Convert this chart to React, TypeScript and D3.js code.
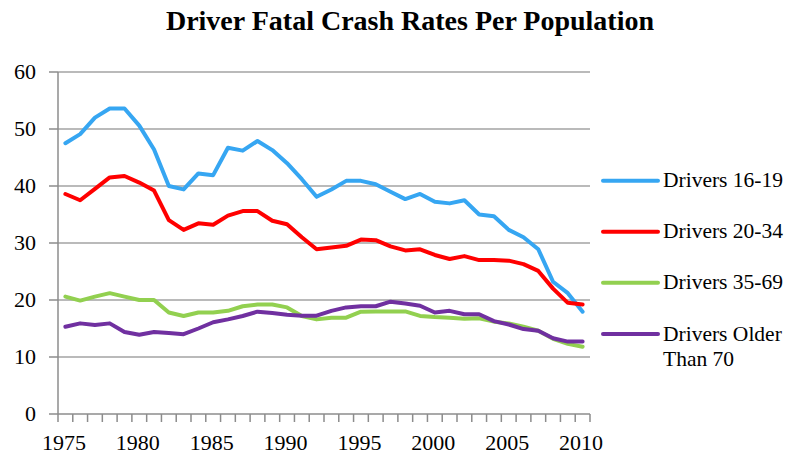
import React from "react";
import * as d3 from "d3";

const years: number[] = Array.from({ length: 36 }, (_, i) => 1975 + i);

const drivers16_19: number[] = [
  47.5, 49.1, 52.0, 53.6, 53.6, 50.6, 46.4, 40.0, 39.4, 42.2,
  41.9, 46.7, 46.2, 47.9, 46.3, 44.0, 41.2, 38.1, 39.4, 40.9,
  40.9, 40.3, 39.0, 37.7, 38.6, 37.25, 36.95, 37.5, 35.0, 34.7,
  32.3, 31.0, 28.9, 23.2, 21.2, 17.95,
];

const drivers20_34: number[] = [
  38.6, 37.5, 39.5, 41.5, 41.75, 40.6, 39.2, 34.0, 32.3, 33.45,
  33.2, 34.8, 35.6, 35.6, 33.9, 33.3, 31.0, 28.9, 29.2, 29.5,
  30.6, 30.5, 29.4, 28.7, 28.9, 27.9, 27.2, 27.7, 27.0, 27.0,
  26.9, 26.3, 25.1, 22.0, 19.5, 19.2,
];

const drivers35_69: number[] = [
  20.6, 19.9, 20.6, 21.2, 20.6, 20.0, 20.0, 17.8, 17.2, 17.8,
  17.8, 18.1, 18.9, 19.2, 19.2, 18.7, 17.2, 16.6, 16.9, 16.9,
  17.95, 18.0, 18.0, 18.0, 17.2, 17.0, 16.9, 16.7, 16.8, 16.2,
  15.9, 15.3, 14.6, 13.2, 12.3, 11.8,
];

const driversOver70: number[] = [
  15.3, 15.9, 15.6, 15.9, 14.4, 13.9, 14.4, 14.2, 14.0, 15.0,
  16.1, 16.6, 17.2, 17.95, 17.7, 17.4, 17.25, 17.25, 18.1, 18.7,
  18.9, 18.9, 19.7, 19.4, 19.0, 17.8, 18.1, 17.5, 17.5, 16.3,
  15.7, 14.9, 14.6, 13.3, 12.7, 12.7,
];

const yTicks: number[] = [0, 10, 20, 30, 40, 50, 60];
const xLabelYears: number[] = [1975, 1980, 1985, 1990, 1995, 2000, 2005, 2010];

const seriesNames: string[][] = [
  ["Drivers 16-19"],
  ["Drivers 20-34"],
  ["Drivers 35-69"],
  ["Drivers Older", "Than 70"],
];
const seriesValues: number[][] = [drivers16_19, drivers20_34, drivers35_69, driversOver70];
const seriesColors: string[] = ["#36A6F2", "#FF0000", "#92D050", "#7030A0"];

const title = "Driver Fatal Crash Rates Per Population";

export default function App() {
  const W = 789;
  const H = 456;
  const left = 58;
  const right = 590;
  const top = 72;
  const bottom = 414;

  const x = d3.scaleBand<number>().domain(years).range([left, right]).padding(0);
  const y = d3.scaleLinear().domain([0, 60]).range([bottom, top]);
  const cx = (yr: number) => (x(yr) as number) + x.bandwidth() / 2;

  const line = d3
    .line<number>()
    .x((_, i) => cx(years[i]))
    .y((v) => y(v))
    .curve(d3.curveLinear);

  const font = "'Liberation Serif', 'Times New Roman', serif";
  const gridColor = "#a3a3a3";
  const axisColor = "#8c8c8c";

  const boundaries = d3.range(years.length + 1).map((i) => left + i * x.bandwidth());

  const legendX1 = 603;
  const legendX2 = 658;
  const legendRows = [180.7, 231.7, 282.7, 334];

  return (
    <svg
      width={W}
      height={H}
      style={{ position: "absolute", left: 0, top: 0, background: "#fff" }}
      fontFamily={font}
    >
      <text x={410} y={30} textAnchor="middle" fontSize={28} fontWeight="bold" fill="#000">
        {title}
      </text>

      {yTicks.filter((t) => t !== 0).map((t) => (
        <line key={"g" + t} x1={left} x2={right} y1={y(t)} y2={y(t)} stroke={gridColor} strokeWidth={1.5} />
      ))}

      {/* y axis */}
      <line x1={left} x2={left} y1={top} y2={bottom} stroke={axisColor} strokeWidth={1.5} />
      {yTicks.map((t) => (
        <g key={"yt" + t}>
          <line x1={left - 9} x2={left} y1={y(t)} y2={y(t)} stroke={axisColor} strokeWidth={1.5} />
          <text x={36} y={y(t) + 7} textAnchor="end" fontSize={22} fill="#000">
            {t}
          </text>
        </g>
      ))}

      {/* x axis */}
      <line x1={left} x2={right} y1={bottom} y2={bottom} stroke={axisColor} strokeWidth={1.5} />
      {boundaries.map((bx, i) => (
        <line key={"xt" + i} x1={bx} x2={bx} y1={bottom} y2={bottom + 8} stroke={axisColor} strokeWidth={1.5} />
      ))}
      {xLabelYears.map((yr) => (
        <text key={"xl" + yr} x={cx(yr) - 1.5} y={449.5} textAnchor="middle" fontSize={22} fill="#000">
          {yr}
        </text>
      ))}

      {seriesValues.map((vals, si) => (
        <path
          key={"s" + si}
          d={line(vals) || ""}
          fill="none"
          stroke={seriesColors[si]}
          strokeWidth={4}
          strokeLinejoin="round"
          strokeLinecap="round"
        />
      ))}

      {seriesNames.map((lines, si) => (
        <g key={"lg" + si}>
          <line
            x1={legendX1}
            x2={legendX2}
            y1={legendRows[si]}
            y2={legendRows[si]}
            stroke={seriesColors[si]}
            strokeWidth={4}
            strokeLinecap="round"
          />
          {lines.map((t, li) => (
            <text key={li} x={663} y={legendRows[si] + 6.5 + li * 25} fontSize={21.5} fill="#000">
              {t}
            </text>
          ))}
        </g>
      ))}
    </svg>
  );
}
